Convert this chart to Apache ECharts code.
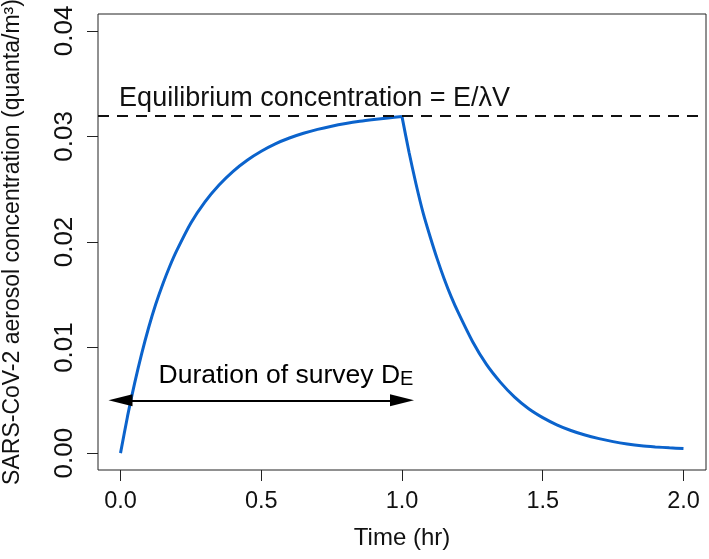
<!DOCTYPE html>
<html>
<head>
<meta charset="utf-8">
<script src="https://cdn.jsdelivr.net/npm/echarts@6/dist/echarts.min.js"></script>
<style>
html,body{margin:0;padding:0;background:#fff;}
#chart{width:709px;height:559px;}
</style>
</head>
<body>
<div id="chart"></div>
<script>
// ---- data ----
const xTicks = [0, 0.5, 1.0, 1.5, 2.0];
const yTicks = [0, 0.01, 0.02, 0.03, 0.04];
const riseT = [0, 0.025, 0.05, 0.075, 0.1, 0.125, 0.15, 0.175, 0.2, 0.25, 0.3, 0.35, 0.4, 0.45, 0.5, 0.55, 0.6, 0.65, 0.7, 0.75, 0.8, 0.85, 0.9, 0.95, 1.0];
const riseC = [0, 0.0035, 0.0066, 0.0094, 0.0119, 0.0141, 0.0160, 0.0177, 0.0192, 0.0218, 0.0238, 0.0254, 0.0267, 0.02775, 0.0286, 0.0293, 0.02985, 0.0303, 0.03067, 0.03097, 0.03122, 0.03143, 0.0316, 0.03175, 0.03188];
const decayT = [1.0, 1.025, 1.05, 1.075, 1.1, 1.125, 1.15, 1.175, 1.2, 1.25, 1.3, 1.35, 1.4, 1.45, 1.5, 1.55, 1.6, 1.65, 1.7, 1.75, 1.8, 1.85, 1.9, 1.95, 2.0];
const decayC = [0.03188, 0.0285, 0.02547, 0.02276, 0.0205, 0.0184, 0.0165, 0.0148, 0.0133, 0.0106, 0.0084, 0.0067, 0.0053, 0.0042, 0.00336, 0.00268, 0.00214, 0.00171, 0.00137, 0.00109, 0.00087, 0.0007, 0.00059, 0.0005, 0.00043];
const equilibrium = 0.032;
const surveyStart = 0;
const surveyEnd = 1;
const arrowLevel = 0.005;
const eqText = 'Equilibrium concentration = E/\u03bbV';
const durText = 'Duration of survey D';
const durSub = 'E';
const xTitle = 'Time (hr)';
const yTitle = 'SARS-CoV-2 aerosol concentration (quanta/m\u00b3)';

const FONT = "'Liberation Sans', Arial, Helvetica, sans-serif";
const BLUE = '#0b63cc';

const chart = echarts.init(document.getElementById('chart'), null, {renderer: 'canvas'});

const zip = (a, b) => a.map((v, i) => [v, b[i]]);

const option = {
  backgroundColor: '#fff',
  animation: false,
  textStyle: {fontFamily: FONT},
  grid: {left: 98, right: 3, top: 14, bottom: 89, show: true, borderColor: '#222', borderWidth: 1,
    backgroundColor: 'transparent', containLabel: false, outerBoundsMode: 'none'},
  xAxis: {
    type: 'value', min: -0.08, max: 2.08,
    name: xTitle, nameLocation: 'middle', nameGap: 56,
    nameTextStyle: {fontSize: 24, color: '#111', fontFamily: FONT},
    axisLine: {show: false, onZero: false},
    splitLine: {show: false},
    axisTick: {show: true, inside: false, length: 11, customValues: xTicks, lineStyle: {color: '#222', width: 1}},
    axisLabel: {show: true, customValues: xTicks, margin: 20, fontSize: 23.5, color: '#111', fontFamily: FONT,
      formatter: v => v.toFixed(1)}
  },
  yAxis: {
    type: 'value', min: -0.0016, max: 0.0416,
    name: yTitle, nameLocation: 'middle', nameGap: 74, nameRotate: 90,
    nameTextStyle: {fontSize: 23, color: '#111', fontFamily: FONT},
    axisLine: {show: false, onZero: false},
    splitLine: {show: false},
    axisTick: {show: true, inside: false, length: 11, customValues: yTicks, lineStyle: {color: '#222', width: 1}},
    axisLabel: {show: true, customValues: yTicks, margin: 20, rotate: 90, fontSize: 26, color: '#111', fontFamily: FONT,
      formatter: v => v.toFixed(2)}
  },
  series: [
    {
      type: 'line', name: 'rise', data: zip(riseT, riseC), showSymbol: false, symbol: 'none', smooth: 0.25,
      lineStyle: {color: BLUE, width: 3}, z: 3,
      markLine: {
        silent: true, symbol: ['none', 'none'], label: {show: false}, precision: 6,
        lineStyle: {color: '#111', type: [11, 8], width: 2},
        data: [{yAxis: equilibrium}]
      }
    },
    {
      type: 'line', name: 'decay', data: zip(decayT, decayC), showSymbol: false, symbol: 'none', smooth: 0.25,
      lineStyle: {color: BLUE, width: 3}, z: 3,
      markLine: {
        silent: true, label: {show: false}, precision: 6,
        lineStyle: {color: '#000', type: 'solid', width: 2},
        data: [[
          {coord: [surveyStart, arrowLevel], symbol: 'triangle', symbolSize: [12, 24]},
          {coord: [surveyEnd, arrowLevel], symbol: 'triangle', symbolSize: [12, 24]}
        ]],
        itemStyle: {color: '#000'}
      }
    }
  ]
};
chart.setOption(option);

const p1 = chart.convertToPixel({gridIndex: 0}, [-0.005, 0.0336]);
const p2 = chart.convertToPixel({gridIndex: 0}, [0.135, 0.0073]);
chart.setOption({
  graphic: [
    {type: 'text', x: p1[0], y: p1[1], style: {text: eqText, font: '27px ' + FONT, fill: '#111', textAlign: 'left', textVerticalAlign: 'middle'}},
    {type: 'text', x: p2[0], y: p2[1], style: {
      text: '{a|' + durText + '}{b|' + durSub + '}',
      textAlign: 'left', textVerticalAlign: 'middle',
      rich: {
        a: {fontSize: 26.5, fontFamily: FONT, color: '#111', lineHeight: 27, verticalAlign: 'bottom'},
        b: {fontSize: 20, fontFamily: FONT, color: '#111', lineHeight: 12, verticalAlign: 'bottom'}
      }
    }}
  ]
});
</script>
</body>
</html>
